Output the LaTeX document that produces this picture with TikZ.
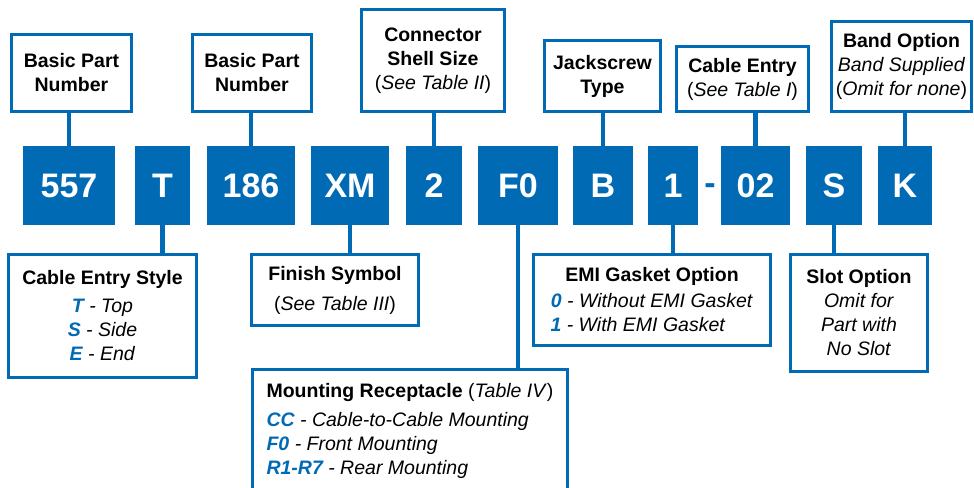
\documentclass[tikz,border=0pt]{standalone}
\usepackage{fontspec}
\setmainfont{Liberation Sans}
\usepackage{xcolor}
\usetikzlibrary{positioning,calc}

\definecolor{partblue}{RGB}{0,106,180}
\newcommand{\opt}[1]{\textcolor{partblue}{\bfseries\itshape #1}}

\begin{document}
\begin{tikzpicture}[
    x=1pt, y=-1pt,
    code/.style={fill=partblue, text=white, font=\fontsize{34}{40}\selectfont\bfseries, minimum height=79pt, inner sep=0pt},
    info/.style={draw=partblue, line width=3pt, fill=white, align=center, font=\fontsize{19.5}{24}\selectfont, inner sep=0pt},
    link/.style={draw=partblue, line width=4.5pt}
]
\useasboundingbox (0,0) rectangle (974,487);

% Row of the part number
\def\rowCode{185.5}

% === Code boxes ===
\node[code, minimum width=92pt] (c557) at (69, \rowCode) {557};
\node[code, minimum width=55pt] (cT) at (162.5, \rowCode) {T};
\node[code, minimum width=88pt] (c186) at (251, \rowCode) {186};
\node[code, minimum width=78pt] (cXM) at (350, \rowCode) {XM};
\node[code, minimum width=56pt] (c2) at (434, \rowCode) {2};
\node[code, minimum width=80pt] (cF0) at (518, \rowCode) {F0};
\node[code, minimum width=60pt] (cB) at (603, \rowCode) {B};
\node[code, minimum width=50pt] (c1) at (673, \rowCode) {1};
\node[code, fill=none, text=partblue] (dash) at (710, 189) {-};
\node[code, minimum width=69pt] (c02) at (755.5, \rowCode) {02};
\node[code, minimum width=56pt] (cS) at (834, \rowCode) {S};
\node[code, minimum width=54pt] (cK) at (905, \rowCode) {K};

% === Labels above ===
\node[info, minimum width=120pt, minimum height=77pt] (pn1) at (71.5, 73) {\textbf{Basic Part}\\\textbf{Number}};
\node[info, minimum width=119pt, minimum height=77pt] (pn2) at (252, 73) {\textbf{Basic Part}\\\textbf{Number}};
\node[info, minimum width=143pt, minimum height=102pt] (shell) at (433, 60.5) {\textbf{Connector}\\\textbf{Shell Size}\\(\textit{See Table II})};
\node[info, minimum width=116pt, minimum height=71pt] (jack) at (602.5, 76) {\textbf{Jackscrew}\\\textbf{Type}};
\node[info, minimum width=132pt, minimum height=65pt] (entry) at (742.5, 79) {\textbf{Cable Entry}\\(\textit{See Table I})};
\node[info, minimum width=140pt, minimum height=90pt] (band) at (901.5, 66.5) {\textbf{Band Option}\\\textit{Band Supplied}\\(\textit{Omit for none})};

% === Labels below ===
\node[info, minimum width=188pt, minimum height=123pt] (style) at (102.5, 316) {\textbf{Cable Entry Style}\\[4pt]\opt{T} \textit{- Top}\\\opt{S} \textit{- Side}\\\opt{E} \textit{- End}};
\node[info, minimum width=167pt, minimum height=71pt] (finish) at (335, 290) {\textbf{Finish Symbol}\\[6pt](\textit{See Table III})};
\node[info, minimum width=315pt, minimum height=124pt] (mount) at (410, 431) {\begin{tabular}{@{}l@{}}\textbf{Mounting Receptacle} (\textit{Table IV})\\[5pt]\opt{CC} \textit{- Cable-to-Cable Mounting}\\\opt{F0} \textit{- Front Mounting}\\\opt{R1-R7} \textit{- Rear Mounting}\end{tabular}};
\node[info, minimum width=237pt, minimum height=91pt] (emi) at (652, 300) {\textbf{EMI Gasket Option}\\[2pt]\opt{0} \textit{- Without EMI Gasket}\\\opt{1} \textit{- With EMI Gasket}\hspace*{28pt}};
\node[info, minimum width=137pt, minimum height=117pt] (slot) at (859, 313) {\textbf{Slot Option}\\\textit{Omit for}\\\textit{Part with}\\\textit{No Slot}};

% Lines up to the labels
\draw[link] (c557.north) -- (c557.north |- pn1.south);
\draw[link] (c186.north) -- (c186.north |- pn2.south);
\draw[link] (c2.north) -- (c2.north |- shell.south);
\draw[link] (cB.north) -- (cB.north |- jack.south);
\draw[link] (c02.north) -- (c02.north |- entry.south);
\draw[link] (cK.north) -- (cK.north |- band.south);

% Lines down to the labels
\draw[link] (cT.south) -- (cT.south |- style.north);
\draw[link] (cXM.south) -- (cXM.south |- finish.north);
\draw[link] (cF0.south) -- (cF0.south |- mount.north);
\draw[link] (c1.south) -- (c1.south |- emi.north);
\draw[link] (cS.south) -- (cS.south |- slot.north);

\end{tikzpicture}
\end{document}
